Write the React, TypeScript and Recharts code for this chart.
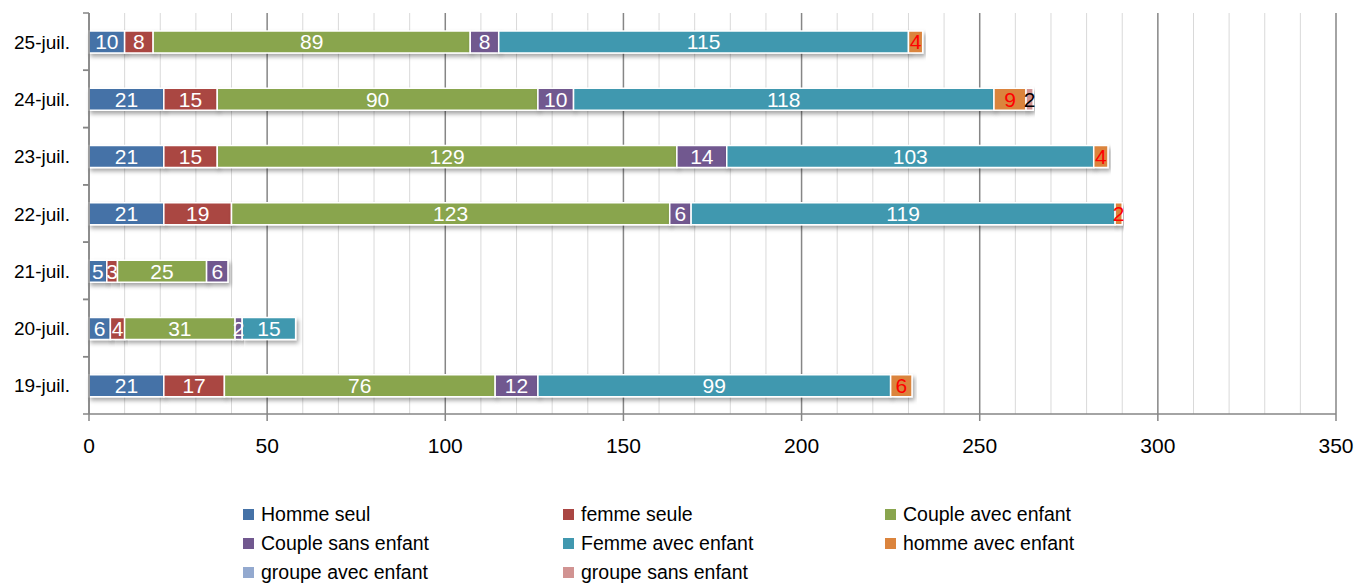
import React from 'react';
import { BarChart, Bar, XAxis, YAxis, CartesianGrid, Legend, LabelList } from 'recharts';

const categories = ['19-juil.', '20-juil.', '21-juil.', '22-juil.', '23-juil.', '24-juil.', '25-juil.'];
const hommeSeul = [21, 6, 5, 21, 21, 21, 10];
const femmeSeule = [17, 4, 3, 19, 15, 15, 8];
const coupleAvecEnfant = [76, 31, 25, 123, 129, 90, 89];
const coupleSansEnfant = [12, 2, 6, 6, 14, 10, 8];
const femmeAvecEnfant = [99, 15, null, 119, 103, 118, 115];
const hommeAvecEnfant = [6, null, null, 2, 4, 9, 4];
const groupeAvecEnfant = [null, null, null, null, null, null, null];
const groupeSansEnfant = [null, null, null, null, null, 2, null];

const xMajorTicks = [0, 50, 100, 150, 200, 250, 300, 350];
const xMinorTicks = [10, 20, 30, 40, 60, 70, 80, 90, 110, 120, 130, 140, 160, 170, 180, 190, 210, 220, 230, 240, 260, 270, 280, 290, 310, 320, 330, 340];

const series = [
  { key: 'hs', name: 'Homme seul', values: hommeSeul, color: '#4572A7', label: '#FFFFFF' },
  { key: 'fs', name: 'femme seule', values: femmeSeule, color: '#AA4643', label: '#FFFFFF' },
  { key: 'cae', name: 'Couple avec enfant', values: coupleAvecEnfant, color: '#89A54E', label: '#FFFFFF' },
  { key: 'cse', name: 'Couple sans enfant', values: coupleSansEnfant, color: '#71588F', label: '#FFFFFF' },
  { key: 'fae', name: 'Femme avec enfant', values: femmeAvecEnfant, color: '#4198AF', label: '#FFFFFF' },
  { key: 'hae', name: 'homme avec enfant', values: hommeAvecEnfant, color: '#DB843D', label: '#FF0000' },
  { key: 'gae', name: 'groupe avec enfant', values: groupeAvecEnfant, color: '#93A9CF', label: '#000000' },
  { key: 'gse', name: 'groupe sans enfant', values: groupeSansEnfant, color: '#D19392', label: '#000000' },
];

const data = categories.map((c, i) => {
  const row: any = { cat: c };
  series.forEach((s) => { row[s.key] = s.values[i]; });
  return row;
});

const FONT = "'Liberation Sans', Arial, sans-serif";
const PLOT_H = 401;
const BAND = PLOT_H / categories.length;

const YTick = (props: any) => {
  const { x, y, payload } = props;
  return (
    <g>
      <line x1={x + 2} x2={x + 8} y1={y - BAND / 2} y2={y - BAND / 2} stroke="#868686" strokeWidth={1.5} />
      <line x1={x + 2} x2={x + 8} y1={y + BAND / 2} y2={y + BAND / 2} stroke="#868686" strokeWidth={1.5} />
      <text x={x - 11} y={y} dy={7} textAnchor="end" fontSize={19} fontFamily={FONT} fill="#000">{payload.value}</text>
    </g>
  );
};

const LegendContent = () => (
  <div style={{ display: 'grid', gridTemplateColumns: '320px 322px 320px', marginLeft: 225, fontFamily: FONT, fontSize: 19.5, color: '#000' }}>
    {series.map((s) => (
      <div key={s.key} style={{ display: 'flex', alignItems: 'center', height: 29, whiteSpace: 'nowrap' }}>
        <span style={{ display: 'inline-block', width: 11, height: 11, background: s.color, marginRight: 7 }} />
        <span>{s.name}</span>
      </div>
    ))}
  </div>
);

export default function App() {
  return (
    <div style={{ fontFamily: FONT }}>
      <BarChart
        width={1353}
        height={579}
        data={data}
        layout="vertical"
        margin={{ top: 5, right: 25, left: 10, bottom: 0 }}
        barSize={22}
      >
        <defs>
          <filter id="shadow" x="-10%" y="-30%" width="130%" height="180%">
            <feDropShadow dx="2" dy="3" stdDeviation="2" floodColor="#000" floodOpacity="0.35" />
          </filter>
        </defs>
        <CartesianGrid horizontal={false} verticalValues={xMinorTicks} stroke="#D9D9D9" strokeWidth={1} />
        <CartesianGrid horizontal={false} stroke="#868686" strokeWidth={1.5} />
        <XAxis
          type="number"
          domain={[0, 350]}
          ticks={xMajorTicks}
          interval={0}
          height={86}
          tickSize={7}
          tickMargin={17}
          axisLine={{ stroke: '#868686', strokeWidth: 1.5 }}
          tickLine={{ stroke: '#868686', strokeWidth: 1.5 }}
          tick={{ fontSize: 21, fontFamily: FONT, fill: '#000' }}
        />
        <YAxis
          type="category"
          dataKey="cat"
          reversed
          width={71}
          tickLine={false}
          axisLine={{ stroke: '#868686', strokeWidth: 1.5 }}
          tick={<YTick />}
          interval={0}
        />
        <Legend verticalAlign="bottom" align="left" content={<LegendContent />} />
        {series.map((s) => (
          <Bar
            key={s.key}
            dataKey={s.key}
            name={s.name}
            stackId="a"
            fill={s.color}
            stroke="#FFFFFF"
            strokeWidth={1.5}
            filter="url(#shadow)"
            isAnimationActive={false}
          >
            <LabelList
              dataKey={s.key}
              position="center"
              fill={s.label}
              fontSize={21}
              fontFamily={FONT}
            />
          </Bar>
        ))}
      </BarChart>
    </div>
  );
}
